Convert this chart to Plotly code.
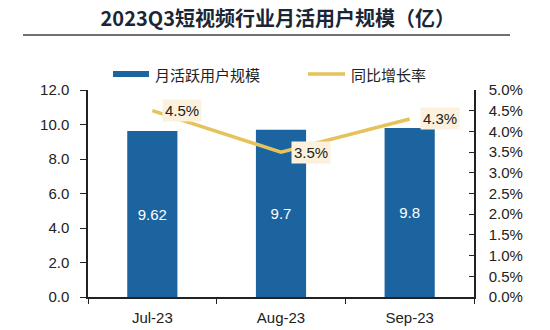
import plotly.graph_objects as go

months = ["Jul-23", "Aug-23", "Sep-23"]
mau = [9.62, 9.7, 9.8]
yoy = [4.5, 3.5, 4.3]
mau_labels = ["9.62", "9.7", "9.8"]
yoy_labels = ["4.5%", "3.5%", "4.3%"]
series_names = ["月活跃用户规模", "同比增长率"]
left_ticks = [0, 2, 4, 6, 8, 10, 12]
right_ticks = [0, 0.5, 1, 1.5, 2, 2.5, 3, 3.5, 4, 4.5, 5]

BLUE = "#1c64a0"
GOLD = "#e5c35a"
FONT = "Liberation Sans, Arial, sans-serif"
CJK = "Noto Sans CJK SC, sans-serif"

L, R, T, B, W, H = 88, 76, 90, 33, 550, 330
PW, PH = W - L - R, H - T - B


def px_x(px):
    return (px - L) / PW


def px_y(py):
    return (H - B - py) / PH


fig = go.Figure()
fig.add_trace(go.Bar(
    x=months, y=mau, width=0.39, marker=dict(color=BLUE, line=dict(width=0)),
    text=mau_labels, textposition="inside", insidetextanchor="middle",
    textfont=dict(color="white", size=15, family=FONT), showlegend=False,
    name=series_names[0],
))
fig.add_trace(go.Scatter(
    x=months, y=yoy, yaxis="y2", mode="lines", line=dict(color=GOLD, width=3.5),
    showlegend=False, name=series_names[1],
))

for m, v, t in zip(months, yoy, yoy_labels):
    fig.add_annotation(x=m, y=v, xref="x", yref="y2", text=t, showarrow=False,
                       xanchor="left", yanchor="middle", xshift=10,
                       bgcolor="#fbf1dc", borderpad=2,
                       font=dict(size=15, color="#222", family=FONT))

# divider under title
fig.add_shape(type="line", xref="paper", yref="paper", x0=px_x(23), x1=px_x(510),
              y0=px_y(35), y1=px_y(35), line=dict(color="#707070", width=2))

# manual legend
LEG_Y = 74
fig.add_shape(type="rect", xref="paper", yref="paper", x0=px_x(113), x1=px_x(149),
              y0=px_y(LEG_Y + 3), y1=px_y(LEG_Y - 3), fillcolor=BLUE, line=dict(width=0))
fig.add_shape(type="line", xref="paper", yref="paper", x0=px_x(308), x1=px_x(345),
              y0=px_y(LEG_Y), y1=px_y(LEG_Y), line=dict(color=GOLD, width=3.5))
for xs, name in zip([153, 349], series_names):
    fig.add_annotation(x=px_x(xs), y=px_y(LEG_Y), xref="paper", yref="paper", text=name,
                       showarrow=False, xanchor="left", yanchor="middle",
                       font=dict(size=15, color="#222", family=CJK))

fig.update_layout(
    width=W, height=H, showlegend=False,
    margin=dict(l=L, r=R, t=T, b=B, autoexpand=False),
    paper_bgcolor="white", plot_bgcolor="white",
    title=dict(text="<b>2023Q3短视频行业月活用户规模（亿）</b>", x=0.505, xanchor="center",
               y=1 - 19 / H, yanchor="middle",
               font=dict(size=20, color="#1a2636", family=CJK)),
    xaxis=dict(showline=True, linecolor="#222", linewidth=1.5, ticks="outside",
               tickson="boundaries", ticklen=5, tickcolor="#222", ticklabelstandoff=6,
               automargin=False,
               tickfont=dict(size=15, color="#222", family=FONT), showgrid=False),
    yaxis=dict(range=[0, 12], tickvals=left_ticks, ticktext=[f"{v:.1f}" for v in left_ticks],
               showline=True, linecolor="#222", linewidth=1.5, ticks="outside", ticklen=6,
               tickcolor="#222", showgrid=False, zeroline=False, ticklabelstandoff=8,
               automargin=False,
               tickfont=dict(size=15, color="#222", family=FONT)),
    yaxis2=dict(range=[0, 5], overlaying="y", side="right", tickvals=right_ticks,
                ticktext=[f"{v:.1f}%" for v in right_ticks],
                showline=True, linecolor="#222", linewidth=1.5, ticks="inside", ticklen=5,
                tickcolor="#222", showgrid=False, zeroline=False, ticklabelstandoff=10,
                automargin=False,
                tickfont=dict(size=15, color="#222", family=FONT)),
)

fig.write_html("out.html")
